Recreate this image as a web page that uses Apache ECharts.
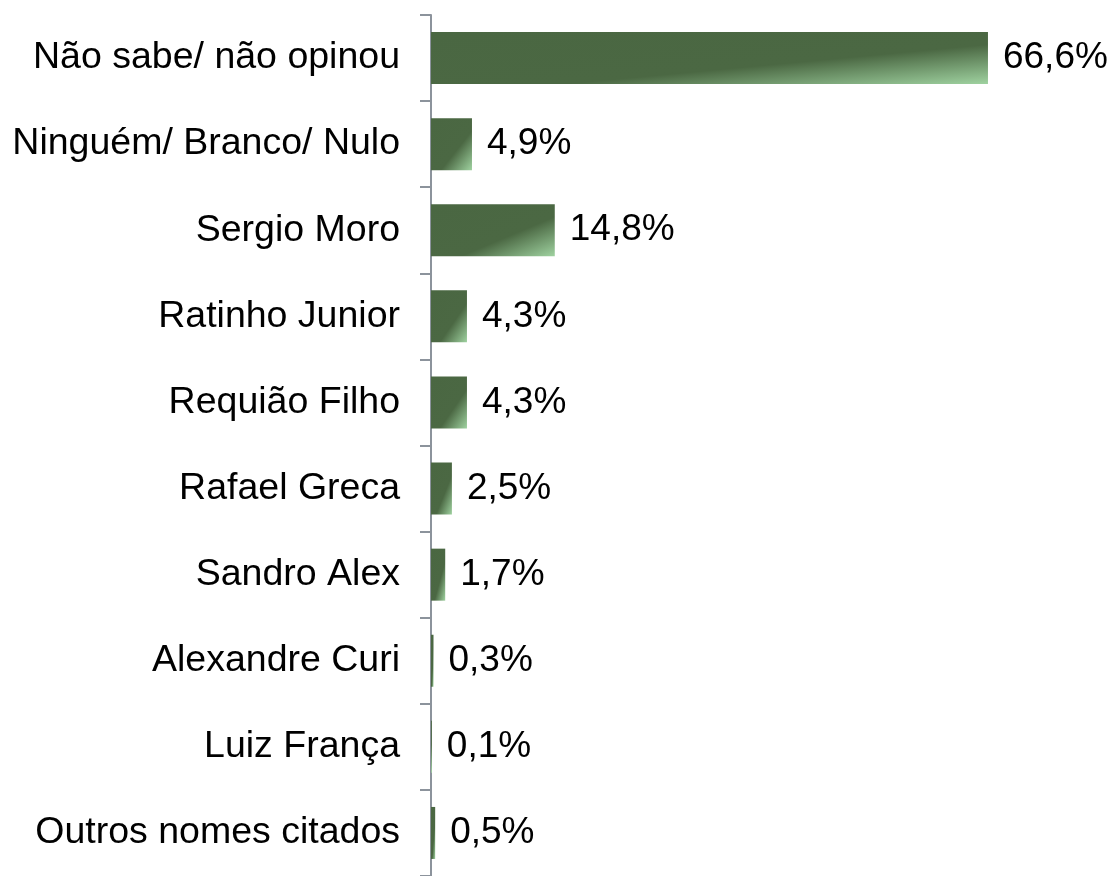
<!DOCTYPE html>
<html>
<head>
<meta charset="utf-8">
<script src="https://cdn.jsdelivr.net/npm/echarts@6/dist/echarts.min.js"></script>
<style>
html,body{margin:0;padding:0;background:#fff;}
#chart{width:1114px;height:876px;}
</style>
</head>
<body>
<div id="chart"></div>
<script>
const categories = ["Não sabe/ não opinou","Ninguém/ Branco/ Nulo","Sergio Moro","Ratinho Junior","Requião Filho","Rafael Greca","Sandro Alex","Alexandre Curi","Luiz França","Outros nomes citados"];
const values = [66.6, 4.9, 14.8, 4.3, 4.3, 2.5, 1.7, 0.3, 0.1, 0.5];

const AXIS_MAX = 70;
const GRID_LEFT = 431;
const GRID_WIDTH = 585.4;
const BAR_H = 52;

function barGradient(v) {
  const w = Math.max(v / AXIS_MAX * GRID_WIDTH, 1);
  const h = BAR_H;
  const a = (h * h) / (w * w);
  const k = 2 / (1 + (h * h) / (w * w));
  return {
    type: 'linear', x: 0, y: 0, x2: k * a, y2: k,
    colorStops: [
      {offset: 0, color: '#4a6742'},
      {offset: 0.62, color: '#4b6843'},
      {offset: 1, color: '#9fd2a0'}
    ]
  };
}

const chart = echarts.init(document.getElementById('chart'), null, {renderer: 'canvas'});
chart.setOption({
  animation: false,
  backgroundColor: '#ffffff',
  grid: {left: GRID_LEFT, top: 15, width: GRID_WIDTH, height: 862, containLabel: false},
  xAxis: {type: 'value', min: 0, max: AXIS_MAX, show: false},
  yAxis: {
    type: 'category',
    data: categories,
    inverse: true,
    axisLine: {show: true, lineStyle: {color: '#8c939c', width: 2}},
    axisTick: {show: true, length: 11, lineStyle: {color: '#8c939c', width: 2}},
    axisLabel: {
      margin: 31,
      color: '#000000',
      fontFamily: 'Liberation Sans, Arial, sans-serif',
      fontSize: 37.5,
      padding: [8, 0, 0, 0]
    }
  },
  series: [{
    type: 'bar',
    data: values.map(v => ({value: v, itemStyle: {color: barGradient(v)}})),
    barWidth: BAR_H,
    label: {
      show: true,
      position: 'right',
      distance: 15,
      color: '#000000',
      fontFamily: 'Liberation Sans, Arial, sans-serif',
      fontSize: 37,
      padding: [8, 0, 0, 0],
      formatter: p => p.value.toFixed(1).replace('.', ',') + '%'
    }
  }]
});
</script>
</body>
</html>
